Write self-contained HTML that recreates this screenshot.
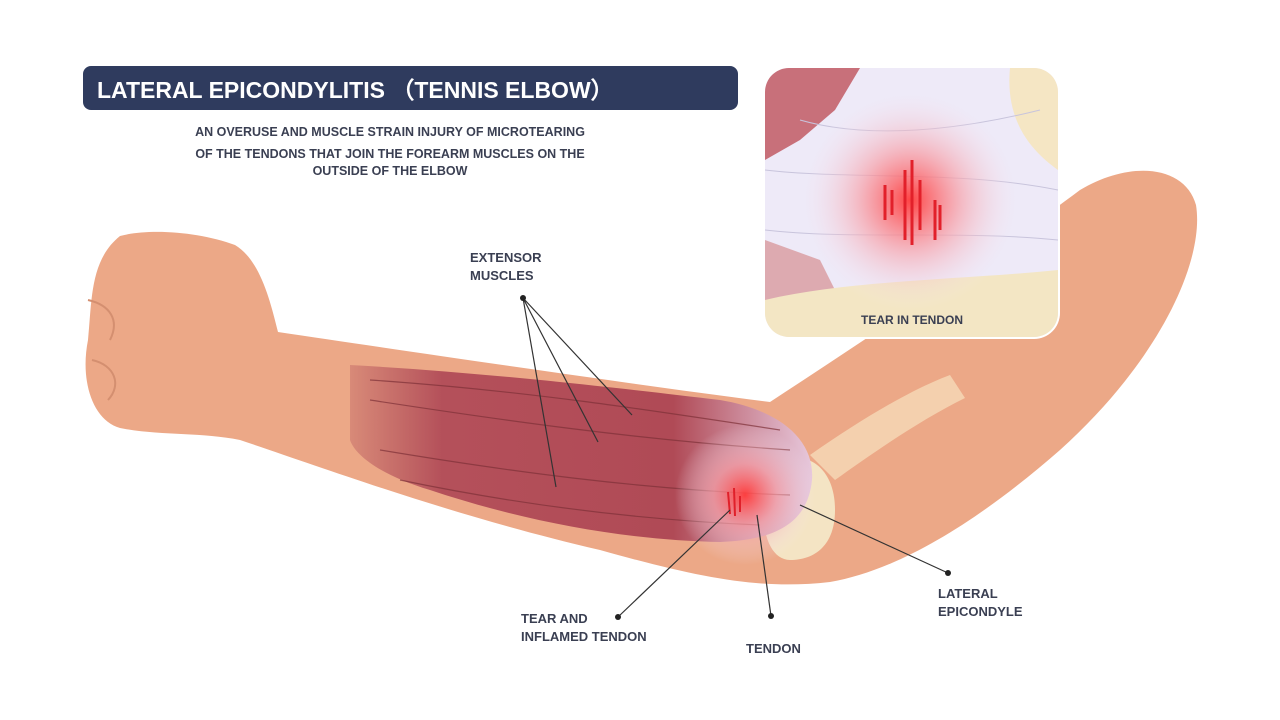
<!DOCTYPE html>
<html><head><meta charset="utf-8"><style>
html,body{margin:0;padding:0;background:#fff;}
svg{display:block}
text{font-family:"Liberation Sans",sans-serif;font-weight:bold;}
</style></head><body>
<svg width="1280" height="720" viewBox="0 0 1280 720" xmlns="http://www.w3.org/2000/svg">
<defs>
<radialGradient id="glow" cx="0.5" cy="0.5" r="0.5">
<stop offset="0" stop-color="#ff3b3b" stop-opacity="0.95"/>
<stop offset="0.45" stop-color="#f7a0a8" stop-opacity="0.7"/>
<stop offset="1" stop-color="#f3e8f6" stop-opacity="0"/>
</radialGradient>
<linearGradient id="mus" x1="0" x2="1" y1="0" y2="0">
<stop offset="0" stop-color="#d88a78"/>
<stop offset="0.2" stop-color="#b4505a"/>
<stop offset="0.7" stop-color="#b04a56"/>
<stop offset="1" stop-color="#e7c8dc"/>
</linearGradient>
<clipPath id="ic"><rect x="765" y="68" width="293" height="269" rx="24"/></clipPath>
</defs>
<path d="M120,236 C150,228 200,232 235,245 C260,260 270,300 278,332 C400,350 600,380 770,402 C880,330 1000,250 1080,190 C1130,160 1185,165 1196,205 C1205,260 1160,360 1060,450 C980,520 900,570 830,582 C760,590 700,578 600,550 C450,515 330,470 240,440 C200,432 160,436 120,428 C92,420 80,380 88,340 C92,300 90,260 120,236 Z" fill="#eca887"/>
<path d="M88,300 C110,305 120,320 110,340 M92,360 C115,365 122,385 108,400" stroke="#d48f70" stroke-width="2" fill="none"/>
<path d="M810,455 C860,420 910,390 950,375 L965,398 C920,420 870,455 835,480 Z" fill="#f6d9b8" opacity="0.8"/>
<path d="M780,460 C810,450 835,470 835,510 C835,545 815,560 790,560 C770,560 760,530 765,500 Z" fill="#f4e4c4"/>
<path d="M350,365 C480,372 620,388 720,400 C780,410 815,440 812,480 C808,520 780,540 720,542 C620,540 520,520 430,490 C380,475 355,455 350,440 Z" fill="url(#mus)"/>
<path d="M370,400 C500,420 640,440 790,450 M380,450 C500,470 640,490 790,495 M400,480 C520,505 640,520 760,525 M370,380 C520,390 650,410 780,430" stroke="#7e3038" stroke-width="1.2" fill="none" opacity="0.7"/>
<circle cx="745" cy="495" r="70" fill="url(#glow)"/>
<path d="M728,492 l2,22 M734,488 l1,28 M740,496 l0,16" stroke="#e0202a" stroke-width="2"/>
<rect x="763" y="66" width="297" height="273" rx="26" fill="#fff"/>
<g clip-path="url(#ic)">
<rect x="765" y="68" width="293" height="269" fill="#eeeaf8"/>
<path d="M765,68 L860,68 L835,110 L800,140 L765,160 Z" fill="#c8707a"/>
<path d="M765,240 L820,260 L840,300 L765,310 Z" fill="#d58e92" opacity="0.7"/>
<path d="M765,300 C850,280 960,280 1058,270 L1058,337 L765,337 Z" fill="#f3e6c4"/>
<path d="M1010,68 L1058,68 L1058,170 C1030,150 1005,120 1010,68 Z" fill="#f5e6c4"/>
<g stroke="#c8c4dc" stroke-width="1" fill="none">
<path d="M765,170 C850,180 960,170 1058,190 M765,230 C850,240 960,230 1058,240 M800,120 C870,140 960,130 1040,110"/>
</g>
<circle cx="910" cy="200" r="110" fill="url(#glow)"/>
<path d="M885,185 l0,35 M892,190 l0,25 M905,170 l0,70 M912,160 l0,85 M920,180 l0,50 M935,200 l0,40 M940,205 l0,25" stroke="#e2202a" stroke-width="3"/>
</g>
<text x="912" y="324" font-size="12" fill="#3a3f52" text-anchor="middle">TEAR IN TENDON</text>
<rect x="83" y="66" width="655" height="44" rx="8" fill="#2f3b5e"/>
<text x="97" y="98" font-size="23" fill="#fff">LATERAL EPICONDYLITIS （TENNIS ELBOW）</text>
<g font-size="12.5" fill="#3a3f52" text-anchor="middle">
<text x="390" y="136">AN OVERUSE AND MUSCLE STRAIN INJURY OF MICROTEARING</text>
<text x="390" y="158">OF THE TENDONS THAT JOIN THE FOREARM MUSCLES ON THE</text>
<text x="390" y="175">OUTSIDE OF THE ELBOW</text>
</g>
<g font-size="13" fill="#3a3f52">
<text x="470" y="262">EXTENSOR</text><text x="470" y="280">MUSCLES</text>
<text x="521" y="623">TEAR AND</text><text x="521" y="641">INFLAMED TENDON</text>
<text x="746" y="653">TENDON</text>
<text x="938" y="598">LATERAL</text><text x="938" y="616">EPICONDYLE</text>
</g>
<g stroke="#333" stroke-width="1.2" fill="none">
<path d="M523,298 L556,487 M523,298 L598,442 M523,298 L632,415"/>
<path d="M618,617 L730,510"/>
<path d="M771,616 L757,515"/>
<path d="M948,573 L800,505"/>
</g>
<g fill="#222"><circle cx="523" cy="298" r="3"/><circle cx="618" cy="617" r="3"/><circle cx="771" cy="616" r="3"/><circle cx="948" cy="573" r="3"/></g>
</svg>
</body></html>
